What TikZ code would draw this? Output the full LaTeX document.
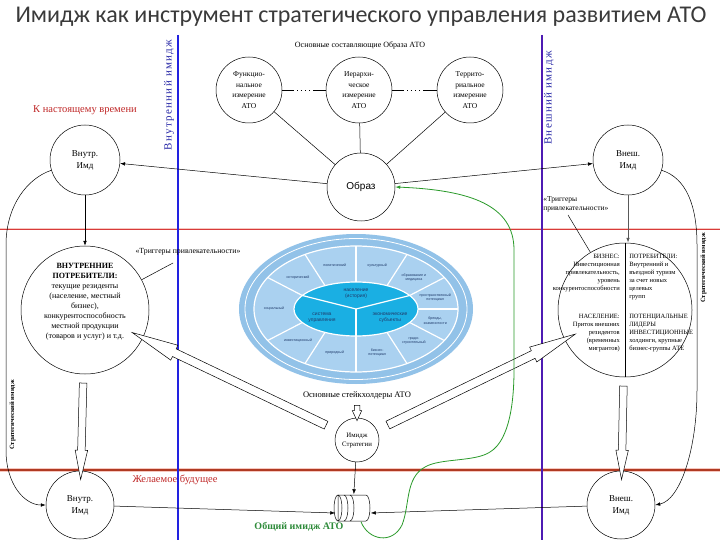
\documentclass[tikz,border=0pt]{standalone}
\usepackage{fontspec}
\setmainfont{Liberation Serif}
\setsansfont{Liberation Sans}
\newfontfamily\titlefont{Carlito}
\usetikzlibrary{calc,shapes.arrows,arrows.meta}
\definecolor{titlegray}{HTML}{3A3A3A}
\definecolor{bluel}{HTML}{2222E0}
\definecolor{bluetxt}{HTML}{2A2AA8}
\definecolor{redtxt}{HTML}{C02828}
\definecolor{redln}{HTML}{D83A3A}
\definecolor{redhalo}{HTML}{F6C8C0}
\definecolor{brownln}{HTML}{B03A22}
\definecolor{greentxt}{HTML}{2E8B3A}
\definecolor{greenln}{HTML}{2A9A2A}
\definecolor{ringblue}{HTML}{92C2E8}
\definecolor{segblue}{HTML}{AAD1F0}
\definecolor{coreblue}{HTML}{1AAFE3}
\definecolor{lblblue}{HTML}{1F3A6A}
\newcommand{\hollowarr}[4]{%
  \path let \p1=(#2), \p2=(#3), \n1={atan2(\y2-\y1,\x2-\x1)}, \n2={veclen(\x2-\x1,\y2-\y1)} in
    node[#4, minimum height=\n2, rotate=\n1] (#1) at ($(#2)!0.5!(#3)$) {};}
\begin{document}
\begin{tikzpicture}[x=1pt,y=-1pt, line width=0.5pt,
  circ/.style={circle, draw, fill=white, inner sep=0pt, align=center},
  tip/.style={-{Latex[length=5pt,width=3.6pt]}},
  harrowA/.style={single arrow, draw, fill=white, line width=0.5pt, inner sep=0pt, text height=8pt, text depth=0pt, single arrow head extend=4pt, single arrow tip angle=20},
  harrowB/.style={single arrow, draw, fill=white, line width=0.5pt, inner sep=0pt, text height=7pt, text depth=0pt, single arrow head extend=2.5pt, single arrow tip angle=24},
  harrowC/.style={single arrow, draw, fill=white, line width=0.5pt, inner sep=0pt, text height=5pt, text depth=0pt, single arrow head extend=2pt, single arrow tip angle=50},
  seglbl/.style={font=\sffamily\fontsize{3.6}{4.2}\selectfont, text=lblblue, align=center, inner sep=0pt},
  corelbl/.style={font=\sffamily\fontsize{5}{6}\selectfont, text=lblblue, align=center, inner sep=0pt},
  rtxt/.style={font=\fontsize{6.5}{7.9}\selectfont, inner sep=0pt},
]
\useasboundingbox (0,0) rectangle (720,540);
\fill[white] (0,0) rectangle (720,540);

% title
\node[font=\titlefont\fontsize{24}{28}\selectfont, text=titlegray] (title) at (361,17) {Имидж как инструмент стратегического управления развитием АТО};

% background lines
\draw[redhalo, line width=2.2pt] (0,229) -- (720,229);
\draw[redln, line width=0.9pt] (0,229) -- (720,229);
\draw[redhalo, line width=4.5pt] (0,470) -- (720,470);
\draw[brownln, line width=2pt] (0,470) -- (720,470);
\draw[bluel, line width=1.3pt] (178,35) -- (178,540);
\draw[bluel!80!red, line width=1.3pt] (542,35) -- (542,540);

\node[rotate=90, font=\fontsize{11}{12}\selectfont\addfontfeature{LetterSpace=12}, text=bluetxt] (inlbl) at (169,95) {Внутренний имидж};
\node[rotate=90, font=\fontsize{11}{12}\selectfont\addfontfeature{LetterSpace=12}, text=bluetxt] (exlbl) at (549,98) {Внешний имидж};

% central ellipse
\fill[ringblue] (356,309) ellipse [x radius=117, y radius=75];
\draw[white, line width=0.8pt] (356,309) ellipse [x radius=111, y radius=70.5];
\fill[segblue] (356,309) ellipse [x radius=102, y radius=63];
\draw[white, line width=1.2pt] (356,309) ellipse [x radius=102, y radius=63];
\foreach \a in {90,60,30,0,-30,-60,-90,-120,-150,150,120}
  \draw[white, line width=1.2pt] ({356+62*cos(\a)},{309-27*sin(\a)}) -- ({356+102*cos(\a)},{309-63*sin(\a)});
\fill[coreblue] (356,309) ellipse [x radius=62, y radius=27];
\draw[white, line width=1.2pt] (356,309) ellipse [x radius=62, y radius=27];
\foreach \a in {150,30,-90}
  \draw[white, line width=1.2pt] (356,309) -- ({356+62*cos(\a)},{309-27*sin(\a)});
\foreach \a/\t [count=\i] in {105/политический, 75/культурный, 45/{образование и\\медицина}, 15/{пространственный\\потенциал}, -15/{бренды,\\знаменитости}, -45/{градо-\\строительный}, -75/{бизнес-\\потенциал}, -105/природный, -135/инвестиционный, 180/социальный, 135/исторический}
  \node[seglbl] (seg\i) at ({356+82*cos(\a)},{309-45*sin(\a)}) {\t};
\node[corelbl] (core1) at (356,294) {население\\(история)};
\node[corelbl] (core2) at (322,318) {система\\управления};
\node[corelbl] (core3) at (390,318) {экономические\\субъекты};

% top circles
\node[font=\fontsize{8}{9}\selectfont] (toplbl) at (360,45) {Основные составляющие Образа АТО};
\node[circ, minimum size=66pt, font=\fontsize{7.5}{10.5}\selectfont] (C1) at (249,90) {Функцио-\\нальное\\измерение\\АТО};
\node[circ, minimum size=66pt, font=\fontsize{7.5}{10.5}\selectfont] (C2) at (359,90) {Иерархи-\\ческое\\измерение\\АТО};
\node[circ, minimum size=66pt, font=\fontsize{7.5}{10.5}\selectfont] (C3) at (470,90) {Террито-\\риальное\\измерение\\АТО};
\draw[dash pattern=on 12pt off 3pt on 1pt off 3pt on 1pt off 3pt on 1pt off 3pt on 1pt off 3pt on 20pt] (C1) -- (C2);
\draw[dash pattern=on 12pt off 3pt on 1pt off 3pt on 1pt off 3pt on 1pt off 3pt on 1pt off 3pt on 20pt] (C2) -- (C3);

\node[circ, minimum size=68pt, font=\sffamily\fontsize{10}{12}\selectfont] (O) at (361,187) {Образ};
\draw (C1) -- (O);
\draw (C2) -- (O);
\draw (C3) -- (O);

\node[font=\fontsize{10.5}{12}\selectfont, text=redtxt] (now) at (85,110) {К настоящему времени};
\node[circ, minimum size=70pt, font=\fontsize{9}{12}\selectfont] (Vn) at (85,160) {Внутр.\\Имд};
\node[circ, minimum size=70pt, font=\fontsize{9}{12}\selectfont] (Vs) at (628,160) {Внеш.\\Имд};
\draw[tip] (O) -- (Vn);
\draw[tip] (O) -- (Vs);

% big circles
\node[circ, minimum size=128pt] (L) at (85,310) {};
\node[font=\fontsize{8}{10}\selectfont, align=center, inner sep=0pt] (Ltxt) at (85,302) {\textbf{ВНУТРЕННИЕ}\\\textbf{ПОТРЕБИТЕЛИ:}\\текущие резиденты\\(население, местный\\бизнес),\\конкурентоспособность\\местной продукции\\(товаров и услуг) и т.д.};
\node[circ, minimum size=134pt] (R) at (625,310) {};
\draw (R.north) -- (R.south);
\node[rtxt, align=right, anchor=north east] (rtl) at (620,254) {БИЗНЕС:\\Инвестиционная\\привлекательность,\\уровень\\конкурентоспособности};
\node[rtxt, align=left, anchor=north west] (rtr) at (629,254) {ПОТРЕБИТЕЛИ:\\Внутренний и\\въездной туризм\\за счет новых\\целевых\\групп};
\node[rtxt, align=right, anchor=north east] (rbl) at (620,314) {НАСЕЛЕНИЕ:\\Приток внешних\\резидентов\\(временных\\мигрантов)};
\node[rtxt, align=left, anchor=north west] (rbr) at (629,314) {ПОТЕНЦИАЛЬНЫЕ\\ЛИДЕРЫ\\ИНВЕСТИЦИОННЫЕ\\холдинги, крупные\\бизнес-группы АТЕ};
\draw[tip] (Vn) -- (L);
\draw[tip, line width=0.9pt, black!65] (Vs) -- (Vs |- R.north);

\node[font=\fontsize{7.8}{9}\selectfont] (trigL) at (188,252) {«Триггеры привлекательности»};
\coordinate (tl) at (173,263);
\draw (tl) -- (L);
\node[font=\fontsize{7.5}{9.5}\selectfont, align=left, anchor=north west, inner sep=0pt] (trigR) at (543,196) {«Триггеры\\привлекательности»};
\coordinate (tr) at (568,215);
\draw (tr) -- (R);

% lower part
\node[font=\fontsize{8.5}{10}\selectfont] (stk) at (357,395) {Основные стейкхолдеры АТО};
\node[circ, minimum size=44pt, font=\fontsize{6.8}{9}\selectfont] (S) at (357,440) {Имидж\\Стратегии};
\node[font=\fontsize{10.5}{12}\selectfont, text=redtxt] (fut) at (175,480) {Желаемое будущее};
\node[circ, minimum size=68pt, font=\fontsize{9}{12}\selectfont] (J1) at (80,505) {Внутр.\\Имд};
\node[circ, minimum size=68pt, font=\fontsize{9}{12}\selectfont] (J2) at (621,505) {Внеш.\\Имд};
\node[draw=none, minimum width=35pt, minimum height=27pt, inner sep=0pt] (cyl) at (353,508) {};
\node[font=\bfseries\fontsize{10}{12}\selectfont, text=greentxt] (tot) at (299,527) {Общий имидж АТО};

% cylinder
\filldraw[fill=white] (338,495) -- (366,495) arc[start angle=-90, end angle=90, x radius=4, y radius=13] -- (338,521) -- cycle;
\draw (338,508) ellipse [x radius=4, y radius=13];
\draw (344,495) arc[start angle=-90, end angle=90, x radius=4, y radius=13];
\draw (350,495) arc[start angle=-90, end angle=90, x radius=4, y radius=13];

% hollow arrows
\path (L) -- (J1) coordinate[pos=0] (a1) coordinate[pos=1] (b1);
\hollowarr{h1}{a1}{b1}{harrowB}
\path (R) -- (J2) coordinate[pos=0] (a2) coordinate[pos=1] (b2);
\hollowarr{h2}{a2}{b2}{harrowB}
\path (S) -- (L) coordinate[pos=0] (s1) coordinate[pos=1] (l1);
\hollowarr{h3}{s1}{l1}{harrowA}
\path (S) -- (R) coordinate[pos=0] (s2) coordinate[pos=1] (r2);
\hollowarr{h4}{s2}{r2}{harrowA}
\path (stk) -- (S) coordinate[pos=0] (k1) coordinate[pos=1] (k2);
\hollowarr{h5}{k1}{k2}{harrowC}

\draw[tip] (S) -- (cyl);
\draw[tip] (J1) -- ([yshift=-5pt]cyl.west);
\draw[tip] (J2) -- ([yshift=-5pt]cyl.east);

% side curves
\draw[tip] (Vn.197) .. controls (28,178) and (6,205) .. (6,245) -- (6,450) .. controls (6,485) and (25,505) .. (J1.west);
\draw[tip] (Vs.-17) .. controls (686,178) and (697,205) .. (697,245) -- (697,390) .. controls (697,450) and (680,500) .. (J2.east);
\node[rotate=90, font=\bfseries\fontsize{6.5}{8}\selectfont] (sl) at (12.5,415) {Стратегический имидж};
\node[rotate=90, font=\bfseries\fontsize{6.5}{8}\selectfont] (sr) at (703.5,268) {Стратегический имидж};

% green feedback curve
\draw[greenln, line width=0.8pt, -{Latex[length=5pt,width=3.6pt]}] ([xshift=8pt]cyl.south) .. controls (368,540) and (392,545) .. (402,525) .. controls (410,505) and (405,478) .. (425,467) .. controls (440,458) and (475,462) .. (490,452) .. controls (510,440) and (514,400) .. (514,370) -- (514,250) .. controls (514,205) and (470,190) .. (O.east);
\end{tikzpicture}
\end{document}
